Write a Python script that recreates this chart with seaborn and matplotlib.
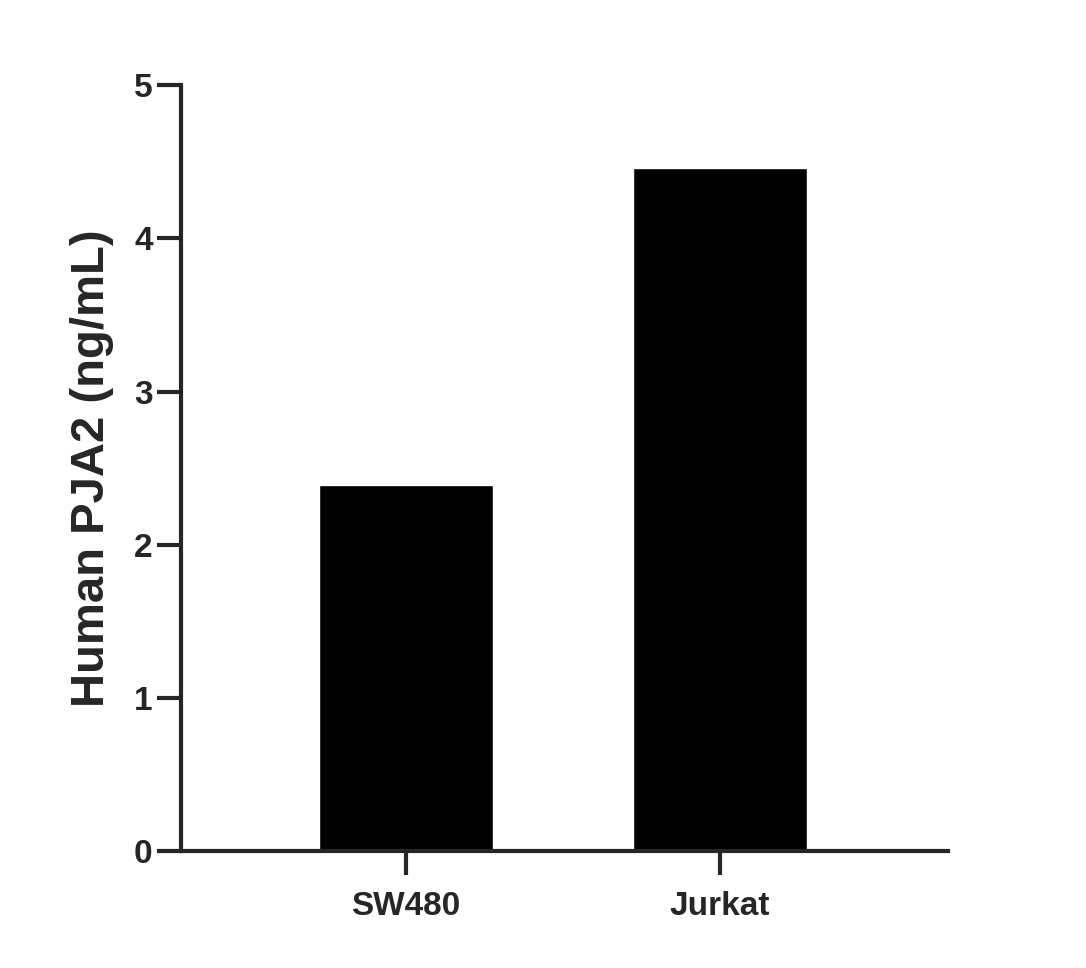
import matplotlib
matplotlib.use("Agg")
import matplotlib.pyplot as plt
import seaborn as sns
import pandas as pd

samples = ["SW480", "Jurkat"]
values = [2.39, 4.46]
yticks = [0, 1, 2, 3, 4, 5]

sns.set_style("ticks")
plt.rcParams['font.family'] = ['Liberation Sans', 'DejaVu Sans']
plt.rcParams['font.weight'] = 'bold'

df = pd.DataFrame({"sample": samples, "value": values})

fig = plt.figure(figsize=(10.86, 9.68), dpi=100)
ax = fig.add_axes([0.1667, 0.1209, 0.706, 0.791])
sns.barplot(data=df, x="sample", y="value", color="black", saturation=1,
            width=0.554, ax=ax)
ax.set_xlim(-0.717, 1.726)
ax.set_ylim(0, 5)
ax.set_yticks(yticks)
ax.set_xlabel("")
ax.set_ylabel("Human PJA2 (ng/mL)", fontsize=34, fontweight='bold', labelpad=14)
for s in ["top", "right"]:
    ax.spines[s].set_visible(False)
for s in ["left", "bottom"]:
    ax.spines[s].set_linewidth(3)
ax.tick_params(axis='both', width=3, length=17, labelsize=24, direction='out')
ax.tick_params(axis='x', pad=12)
for lbl in ax.get_xticklabels() + ax.get_yticklabels():
    lbl.set_fontweight('bold')

fig.savefig("out.png", dpi=100)
